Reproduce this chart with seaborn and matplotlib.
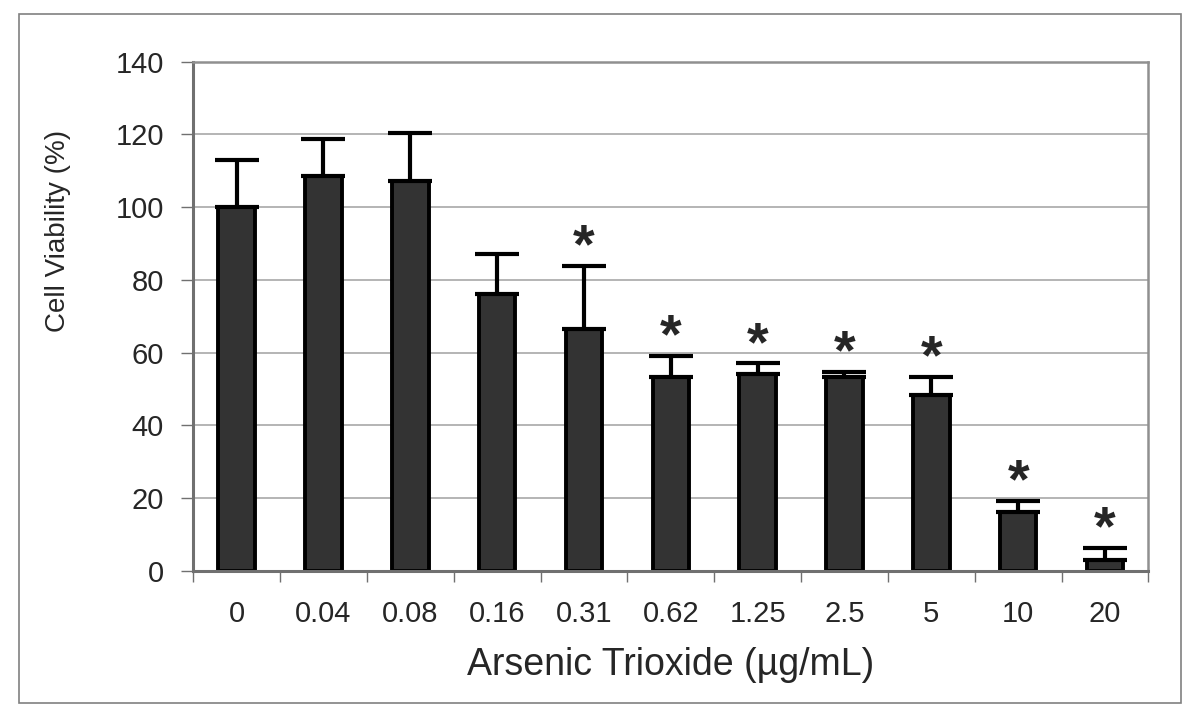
import numpy as np
import pandas as pd
import matplotlib
matplotlib.use("Agg")
import matplotlib.pyplot as plt
import seaborn as sns

# data
doses = ["0", "0.04", "0.08", "0.16", "0.31", "0.62", "1.25", "2.5", "5", "10", "20"]
viability = [100, 108.6, 107.2, 76.0, 66.4, 53.4, 54.0, 53.4, 48.2, 16.2, 3.0]
sd = [13.0, 10.2, 13.2, 11.0, 17.4, 5.7, 3.0, 1.2, 5.2, 3.0, 3.2]
significant = [False, False, False, False, True, True, True, True, True, True, True]

df = pd.DataFrame({"dose": doses, "viability": viability})

sns.set_style("white")
plt.rcParams["font.family"] = ["Liberation Sans", "DejaVu Sans"]

fig = plt.figure(figsize=(12, 7.17), dpi=100)
ax = fig.add_axes([0.161, 0.204, 0.796, 0.710])

sns.barplot(data=df, x="dose", y="viability", color="#333333",
            edgecolor="black", linewidth=2.8, width=0.42,
            saturation=1, errorbar=None, ax=ax)

# upper-only error bars
x = np.arange(len(doses))
ax.errorbar(x, viability, yerr=[np.zeros(len(sd)), sd], fmt="none",
            ecolor="black", elinewidth=3, capsize=16, capthick=3, zorder=3)

# significance stars
for xi, v, s, sig in zip(x, viability, sd, significant):
    if sig:
        ax.annotate("*", (xi, v + s), xytext=(0, -6), textcoords="offset points",
                    ha="center", va="bottom", fontsize=40, fontweight="bold")

ax.set_xlim(-0.5, len(doses) - 0.5)
ax.set_ylim(0, 140)
ax.set_yticks(range(0, 141, 20))
ax.yaxis.grid(True, color="#a8a8a8", linewidth=1.2)
ax.set_axisbelow(True)

# x ticks at category boundaries, Excel style
ax.set_xticks(x)
ax.set_xticklabels(doses, fontsize=21)
ax.set_xticks(np.arange(-0.5, len(doses)), minor=True)
ax.tick_params(axis="x", which="major", length=0, pad=21)
ax.tick_params(axis="x", which="minor", length=8, width=1, color="#707070", direction="out")
ax.tick_params(axis="y", length=9, width=1, color="#707070", direction="out", labelsize=21, pad=12)
ax.tick_params(bottom=True, left=True, which="both")

for side in ["left", "bottom"]:
    ax.spines[side].set_color("#707070")
    ax.spines[side].set_linewidth(2.2)
for side in ["top", "right"]:
    ax.spines[side].set_color("#909090")
    ax.spines[side].set_linewidth(1.8)

ax.set_xlabel("Arsenic Trioxide (\u00b5g/mL)", fontsize=27, labelpad=14)
ax.set_ylabel("Cell Viability (%)", fontsize=20)
ax.yaxis.set_label_coords(-0.128, 0.668)

# outer border of the chart area
border = plt.Rectangle((0.016, 0.02), 0.968, 0.96, transform=fig.transFigure,
                       fill=False, edgecolor="#808080", linewidth=1.2)
fig.patches.append(border)

fig.savefig("out.png", dpi=100, facecolor="white")
